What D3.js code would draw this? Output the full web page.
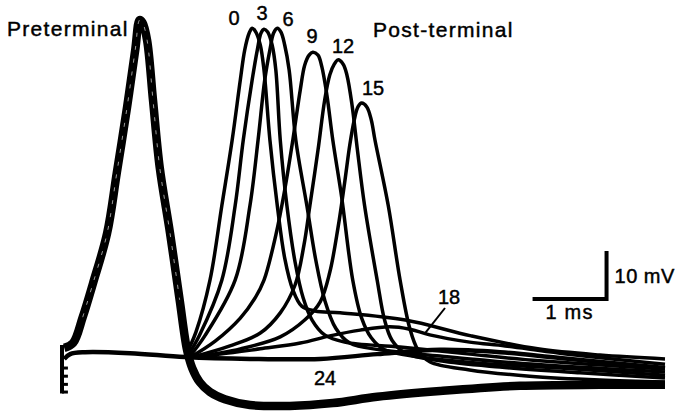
<!DOCTYPE html>
<html>
<head>
<meta charset="utf-8">
<script src="https://cdn.jsdelivr.net/npm/d3@7"></script>
<style>
  body { margin: 0; background: #fff; }
  text { font-family: "Liberation Sans", Arial, Helvetica, sans-serif; fill: #000; stroke: #000; stroke-width: 0.45px; }
</style>
</head>
<body>
<script>
// traces: [time (ms), membrane potential (mV)]
var preterminal = [[0.03,1.9],[0.15,2.9],[0.28,8.3],[0.42,15.4],[0.61,25.8],[0.74,38.3],[0.88,52.1],[0.99,64.0],
  [1.05,70.2],[1.09,69.6],[1.15,66.0],[1.23,53.5],[1.32,39.6],[1.46,25.8],[1.59,11.9],[1.69,1.5],[1.76,-2.3],
  [1.86,-5.2],[2.00,-7.3],[2.20,-8.8],[2.54,-10.0],[3.08,-10.2],[3.66,-9.6],[4.26,-8.3],[5.11,-7.1],[6.19,-6.0],
  [7.27,-5.8],[8.15,-5.8]];

var post0 = [[1.66,0],[1.81,5.2],[2.00,16.0],[2.16,31.5],[2.30,45.2],[2.41,57.7],[2.47,64.0],[2.53,67.5],[2.57,68.5],
  [2.62,67.7],[2.68,65.0],[2.73,59.8],[2.81,45.2],[2.91,31.5],[3.01,20.6],[3.12,14.0],[3.24,10.6],[3.42,9.6],
  [3.76,9.2],[4.64,7.7],[5.53,4.4],[6.43,1.7],[7.27,0.4],[8.15,-0.4]];
var post3 = [[1.69,0],[1.86,4.6],[2.16,16.0],[2.34,31.5],[2.45,45.2],[2.57,57.7],[2.64,64.0],[2.69,67.5],[2.73,68.3],
  [2.78,67.7],[2.84,65.0],[2.89,59.8],[2.95,45.2],[3.04,31.5],[3.15,19.8],[3.26,12.3],[3.38,7.7],[3.55,4.6],
  [3.82,3.1],[4.57,2.1],[5.51,0.6],[6.46,-0.8],[8.15,-2.5]];
var post6 = [[1.72,0],[1.93,4.4],[2.34,16.0],[2.54,31.5],[2.65,45.2],[2.74,57.7],[2.81,64.0],[2.86,67.5],[2.91,68.5],
  [2.96,67.7],[3.01,65.0],[3.07,59.8],[3.16,45.2],[3.31,31.5],[3.43,20.2],[3.55,11.9],[3.70,6.0],[3.89,2.9],
  [4.30,1.5],[5.11,0.2],[6.19,-1.3],[8.15,-3.1]];
var post9 = [[1.74,0],[2.07,3.3],[2.41,8.1],[2.61,12.3],[2.73,16.0],[2.89,25.4],[3.01,34.8],[3.12,45.2],[3.22,55.6],
  [3.28,60.8],[3.34,62.9],[3.39,63.5],[3.46,62.9],[3.51,60.6],[3.58,54.6],[3.66,45.2],[3.78,33.3],[3.93,16.0],
  [4.05,8.1],[4.18,4.0],[4.36,1.5],[4.84,0],[5.65,-1.3],[6.73,-2.3],[8.15,-3.8]];
var post12 = [[1.77,0],[2.27,2.3],[2.68,5.0],[2.95,9.2],[3.15,15.0],[3.27,23.3],[3.35,31.5],[3.46,43.1],[3.55,53.5],
  [3.62,58.8],[3.68,61.0],[3.73,61.9],[3.80,61.0],[3.85,58.8],[3.92,52.5],[3.99,43.5],[4.09,31.5],[4.26,16.0],
  [4.36,7.7],[4.46,3.5],[4.64,0.8],[5.11,-0.8],[5.92,-2.1],[7.00,-3.3],[8.15,-4.4]];
var post15 = [[1.80,0],[2.41,1.7],[2.95,4.2],[3.28,7.7],[3.49,11.5],[3.62,17.7],[3.73,26.9],[3.82,36.3],[3.89,44.2],
  [3.95,49.4],[4.00,52.1],[4.05,52.9],[4.12,52.1],[4.18,49.4],[4.23,45.2],[4.41,31.5],[4.57,16.0],[4.70,6.0],
  [4.81,1.5],[4.97,-1.0],[5.51,-2.7],[6.32,-4.0],[7.27,-4.8],[8.15,-5.2]];
var post18 = [[1.66,0],[2.14,0.6],[2.68,1.7],[3.22,2.9],[3.62,4.4],[4.03,5.6],[4.43,6.3],[4.70,5.8],[4.97,4.6],
  [5.51,3.1],[5.99,2.3],[6.73,0.8],[8.15,-1.5]];
var post24 = [[0.03,-0.4],[0.11,0.6],[0.31,1.0],[0.92,0.8],[1.66,0],[2.54,-0.4],[3.49,-0.4],[4.26,0.6],[5.11,1.5],
  [5.92,1.0],[6.73,-0.2],[8.15,-2.3]];

var postTraces = [post0, post3, post6, post9, post12, post15, post18];
var traceLabels = ["0", "3", "6", "9", "12", "15", "18", "24"];

// stimulus artifact steps (mV) and scale bar size
var artifactSteps = [-2.3, -4.0, -5.7, -7.3];
var barTime = 1, barVolt = 10;

var width = 678, height = 412;

var svg = d3.select("body").append("svg")
    .attr("width", width)
    .attr("height", height);

// 74 px per ms, 4.8 px per mV
var x = d3.scaleLinear().domain([0, 8.15]).range([62, 665]);
var y = d3.scaleLinear().domain([0, 10]).range([357, 309]);

var line = d3.line()
    .x(function(d){ return x(d[0]); })
    .y(function(d){ return y(d[1]); })
    .curve(d3.curveCatmullRom.alpha(0.5));

// stimulus artifact
var art = svg.append("g").attr("stroke", "#000").attr("fill", "none");
art.append("line")
    .attr("x1", x(0)).attr("x2", x(0))
    .attr("y1", y(2.5)).attr("y2", y(-7.6))
    .attr("stroke-width", 4);
art.selectAll(".tick").data(artifactSteps).enter()
    .append("line")
    .attr("x1", x(0)).attr("x2", x(0.08))
    .attr("y1", function(d){ return y(d); })
    .attr("y2", function(d){ return y(d); })
    .attr("stroke-width", 3);

// flat trace (24)
svg.append("path")
    .datum(post24)
    .attr("d", line)
    .attr("fill", "none")
    .attr("stroke", "#000")
    .attr("stroke-width", 4.5);

// post-terminal spikes
svg.selectAll(".post").data(postTraces).enter()
    .append("path")
    .attr("class", "post")
    .attr("d", line)
    .attr("fill", "none")
    .attr("stroke", "#000")
    .attr("stroke-width", 3.5)
    .attr("stroke-linejoin", "round");

// preterminal spike (several sweeps superimposed -> thick)
svg.append("path")
    .datum(preterminal)
    .attr("d", line)
    .attr("fill", "none")
    .attr("stroke", "#000")
    .attr("stroke-width", 8.5)
    .attr("stroke-linejoin", "round");

// thin gap between the superimposed sweeps
svg.append("path")
    .datum(preterminal.slice(2, 15))
    .attr("d", line)
    .attr("fill", "none")
    .attr("stroke", "#fff")
    .attr("stroke-width", 0.6)
    .attr("stroke-dasharray", "4,9");

// labels
svg.append("text").text("Preterminal")
    .attr("x", 7).attr("y", 36)
    .attr("font-size", 21).attr("letter-spacing", 1.3);
svg.append("text").text("Post-terminal")
    .attr("x", 373).attr("y", 37)
    .attr("font-size", 21).attr("letter-spacing", 1.3);

var labelPos = [[234, 25], [262, 20], [288, 26], [312, 43], [343, 53], [373, 95], [449, 304], [325, 385]];
svg.selectAll(".lab").data(traceLabels).enter()
    .append("text")
    .attr("class", "lab")
    .text(function(d){ return d; })
    .attr("x", function(d, i){ return labelPos[i][0]; })
    .attr("y", function(d, i){ return labelPos[i][1]; })
    .attr("text-anchor", "middle")
    .attr("font-size", 20);

// arrow to the 18 trace
svg.append("line")
    .attr("x1", 445).attr("y1", 308)
    .attr("x2", x(4.9)).attr("y2", y(4.8))
    .attr("stroke", "#000").attr("stroke-width", 2);

// scale bar
var bt = 7.36, bv = 12.1;
svg.append("path")
    .attr("d", "M" + x(bt - barTime) + "," + y(bv) + "H" + x(bt) + "V" + y(bv + barVolt))
    .attr("fill", "none")
    .attr("stroke", "#000")
    .attr("stroke-width", 4);
svg.append("text").text("10 mV")
    .attr("x", x(bt) + 8).attr("y", 283)
    .attr("font-size", 20).attr("letter-spacing", 0.5);
svg.append("text").text("1 ms")
    .attr("x", x(bt - barTime / 2)).attr("y", 319)
    .attr("text-anchor", "middle")
    .attr("font-size", 20).attr("letter-spacing", 1.2);
</script>
</body>
</html>
